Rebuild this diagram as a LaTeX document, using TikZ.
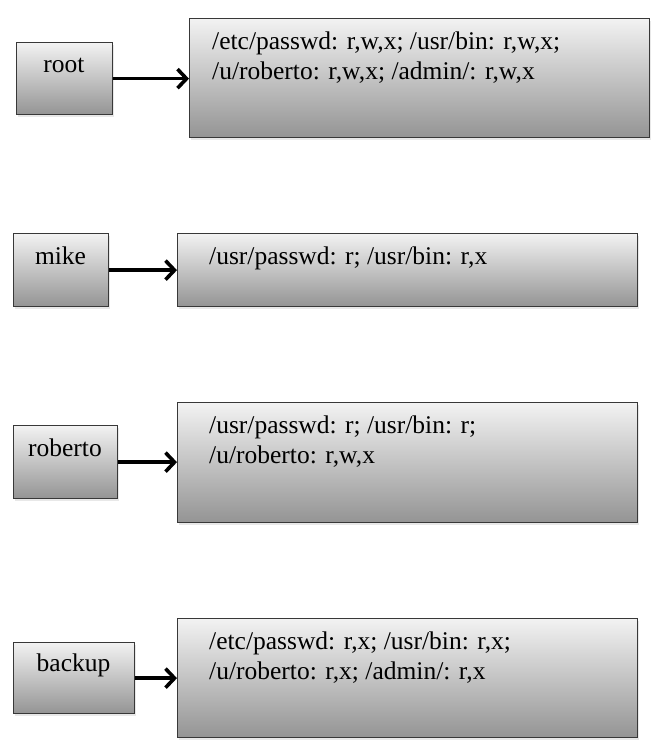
\documentclass[tikz,border=0pt]{standalone}
\usepackage{fontspec}
\setmainfont{Liberation Serif}
\usetikzlibrary{arrows.meta,shadows}
\begin{document}
\begin{tikzpicture}[x=1pt,y=-1pt,
  box/.style={draw=black!78, line width=1.3pt, rectangle, inner sep=0pt, anchor=north west,
    top color=black!5, bottom color=black!42,
    drop shadow={opacity=0.18, shadow xshift=1.5pt, shadow yshift=-2.5pt}},
  lbl/.style={anchor=base, inner sep=0pt, font=\fontsize{25.5}{30}\selectfont},
  txt/.style={anchor=base west, inner sep=0pt, align=left, font=\fontsize{25.5}{30}\selectfont},
  conn/.style={line width=3.6pt, -{Straight Barb[length=9pt,width=19pt,line width=3.6pt]}}]
\useasboundingbox (0,0) rectangle (662,756);
% root
\node[box, minimum width=96pt, minimum height=72pt] (ur) at (16,42) {};
\node[box, minimum width=460pt, minimum height=119pt] (pr) at (189,18) {};
\node[lbl] (lr) at (64,72) {root};
\node[txt] (tr) at (212,79) {/etc/passwd: r,w,x; /usr/bin: r,w,x;\\/u/roberto: r,w,x; /admin/: r,w,x};
\draw[conn] (ur.east) -- (ur.east -| pr.west);
% mike
\node[box, minimum width=95pt, minimum height=73pt] (um) at (13,233) {};
\node[box, minimum width=460pt, minimum height=73pt] (pm) at (177,233) {};
\node[lbl] (lm) at (60.5,264) {mike};
\node[txt] (tm) at (209,264) {/usr/passwd: r; /usr/bin: r,x};
\draw[conn] (um.east) -- (um.east -| pm.west);
% roberto
\node[box, minimum width=104pt, minimum height=73pt] (uro) at (13,425) {};
\node[box, minimum width=460pt, minimum height=120pt] (pro) at (177,402) {};
\node[lbl] (lro) at (65,456) {roberto};
\node[txt] (tro) at (209,463) {/usr/passwd: r; /usr/bin: r;\\/u/roberto: r,w,x};
\draw[conn] (uro.east) -- (uro.east -| pro.west);
% backup
\node[box, minimum width=121pt, minimum height=71pt] (ub) at (13,642) {};
\node[box, minimum width=460pt, minimum height=119pt] (pb) at (177,618) {};
\node[lbl] (lb) at (73.5,671) {backup};
\node[txt] (tb) at (209,679) {/etc/passwd: r,x; /usr/bin: r,x;\\/u/roberto: r,x; /admin/: r,x};
\draw[conn] (ub.east) -- (ub.east -| pb.west);
\end{tikzpicture}
\end{document}
